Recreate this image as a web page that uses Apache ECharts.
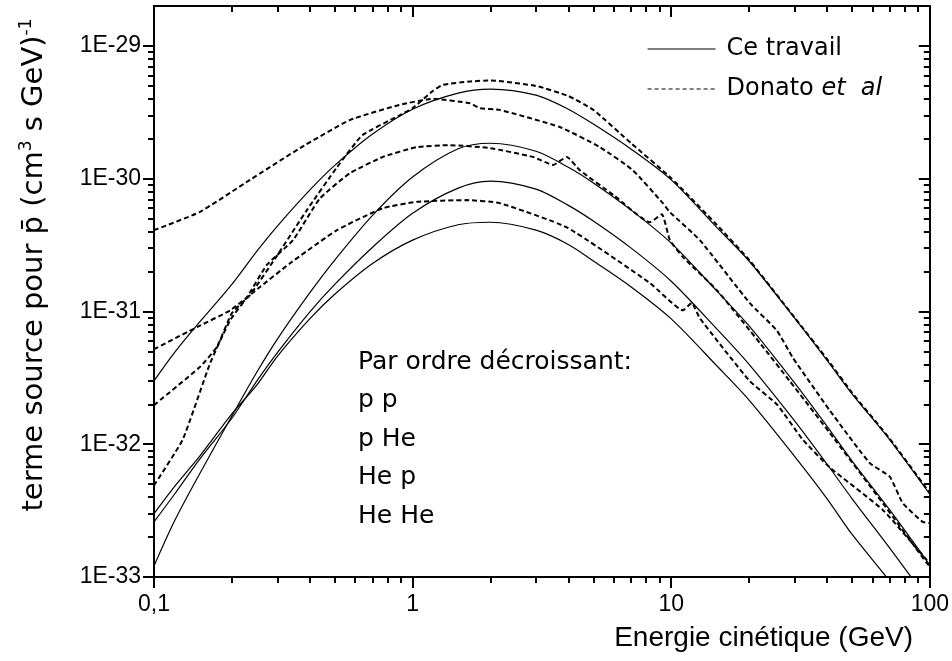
<!DOCTYPE html>
<html>
<head>
<meta charset="utf-8">
<script src="https://cdn.jsdelivr.net/npm/echarts@6/dist/echarts.min.js"></script>
<style>
  html, body { margin: 0; padding: 0; background: #fff; }
  #chart { width: 952px; height: 661px; }
</style>
</head>
<body>
<div id="chart"></div>
<script>
// Antiproton source terms (cm^-3 s^-1 GeV^-1) versus kinetic energy (GeV)

// --- "Ce travail": shared energy grid -------------------------------------
const energyGrid = [0.1, 0.12, 0.15, 0.2, 0.25, 0.3, 0.4, 0.5, 0.7, 1, 1.5, 2, 3, 4, 5, 7, 10, 15, 20, 30, 40, 50, 70, 100];
const ppThis   = [3.0e-32, 4.9e-32, 8.3e-32, 1.6e-31, 2.85e-31, 4.4e-31, 8.2e-31, 1.26e-30, 2.17e-30, 3.34e-30, 4.41e-30, 4.73e-30, 4.26e-30, 3.34e-30, 2.58e-30, 1.67e-30, 9.8e-31, 4.3e-31, 2.4e-31, 8.9e-32, 4.3e-32, 2.4e-32, 1.08e-32, 4.2e-33];
const pHeThis  = [1.21e-33, 2.64e-33, 5.97e-33, 1.63e-32, 3.5e-32, 6.2e-32, 1.38e-31, 2.44e-31, 5.3e-31, 1.03e-30, 1.68e-30, 1.85e-30, 1.61e-30, 1.22e-30, 9.3e-31, 5.8e-31, 3.27e-31, 1.43e-31, 7.8e-32, 2.9e-32, 1.37e-32, 7.5e-33, 3.2e-33, 1.23e-33];
const HepThis  = [2.6e-33, 4.2e-33, 7.7e-33, 1.57e-32, 3.0e-32, 4.9e-32, 9.9e-32, 1.6e-31, 3.05e-31, 5.5e-31, 8.5e-31, 9.6e-31, 8.35e-31, 6.3e-31, 4.8e-31, 3.0e-31, 1.69e-31, 7.4e-32, 4.0e-32, 1.5e-32, 7.1e-33, 3.9e-33, 1.65e-33, 6.4e-34];
const HeHeThis = [3.0e-33, 4.8e-33, 8.1e-33, 1.69e-32, 2.8e-32, 4.6e-32, 8.8e-32, 1.35e-31, 2.3e-31, 3.45e-31, 4.5e-31, 4.7e-31, 4.1e-31, 3.2e-31, 2.4e-31, 1.53e-31, 8.8e-32, 3.9e-32, 2.15e-32, 8.1e-33, 3.9e-33, 2.1e-33, 9.3e-34, 3.7e-34];

// --- "Donato et al": each curve on its own energy points -------------------
const donatoAE = [0.1, 0.15, 0.175, 0.2, 0.235, 0.3, 0.39, 0.51, 0.64, 0.89, 1.0, 1.2, 1.31, 1.67, 2.0, 3.0, 4.0, 5.0, 7.0, 10, 15, 20, 30, 40, 50, 70, 100];
const donatoAV = [1.97e-32, 3.8e-32, 5.4e-32, 9.7e-32, 1.33e-31, 2.66e-31, 5.8e-31, 1.22e-30, 2.13e-30, 3.0e-30, 3.4e-30, 4.6e-30, 5.1e-30, 5.4e-30, 5.5e-30, 5.0e-30, 4.2e-30, 3.3e-30, 1.85e-30, 1.01e-30, 4.5e-31, 2.45e-31, 9.0e-32, 4.4e-32, 2.45e-32, 1.1e-32, 4.3e-33];

const donatoBE = [0.1, 0.15, 0.235, 0.367, 0.57, 0.89, 1.2, 1.67, 1.82, 2.17, 3.71, 5.3, 7.1, 9.28, 9.88, 12.9, 20.1, 25.6, 29.5, 41, 58.6, 70, 78.6, 93.9, 100];
const donatoBV = [4.1e-31, 5.6e-31, 9.8e-31, 1.70e-30, 2.76e-30, 3.6e-30, 4.0e-30, 3.7e-30, 3.4e-30, 3.3e-30, 2.45e-30, 1.73e-30, 1.16e-30, 6.55e-31, 5.6e-31, 3.45e-31, 1.16e-31, 7.2e-32, 4.5e-32, 1.8e-32, 7.2e-33, 5.7e-33, 3.6e-33, 2.6e-33, 2.55e-33];

const donatoCE = [0.1, 0.129, 0.165, 0.197, 0.229, 0.273, 0.345, 0.438, 0.572, 0.768, 1.04, 1.39, 1.99, 2.92, 3.49, 3.95, 4.43, 6.0, 8.27, 9.2, 9.88, 11.1, 15, 22, 28.7, 41, 65.8, 97.4, 100];
const donatoCV = [4.9e-33, 1.08e-32, 4.1e-32, 8.6e-32, 1.28e-31, 2.24e-31, 3.45e-31, 7.1e-31, 1.10e-30, 1.46e-30, 1.73e-30, 1.79e-30, 1.70e-30, 1.46e-30, 1.27e-30, 1.46e-30, 1.16e-30, 7.5e-31, 4.7e-31, 5.4e-31, 3.45e-31, 2.57e-31, 1.45e-31, 5.8e-32, 3.0e-32, 1.22e-32, 3.6e-33, 1.27e-33, 1.2e-33];

const donatoDE = [0.1, 0.15, 0.197, 0.257, 0.335, 0.51, 0.768, 1.04, 1.62, 2.17, 3.95, 8.27, 11.1, 12.0, 12.9, 20.1, 25.6, 32.3, 41, 65.8, 97.4, 100];
const donatoDV = [5.2e-32, 7.8e-32, 1.02e-31, 1.53e-31, 2.3e-31, 4.1e-31, 6.0e-31, 6.7e-31, 6.9e-31, 6.55e-31, 4.3e-31, 1.64e-31, 1.02e-31, 1.16e-31, 8.9e-32, 3.0e-32, 2.0e-32, 1.08e-32, 6.7e-33, 3.2e-33, 1.34e-33, 1.3e-33];

// The value axis works in units of 1E-33 so that its tick values stay
// within ECharts' rounding precision; labels show the physical powers.
const Y_UNIT = 1e-33;
const Y_UNIT_EXP = -33;

// --- axis ticks --------------------------------------------------------------
const xMajorTicks = [0.1, 1, 10, 100];
const xMinorTicks = [0.2, 0.3, 0.4, 0.5, 0.6, 0.7, 0.8, 0.9, 2, 3, 4, 5, 6, 7, 8, 9, 20, 30, 40, 50, 60, 70, 80, 90];
// in units of Y_UNIT: 1E-33 ... 1E-29, top of the axis at 2E-29
const yMin = 1, yMax = 20000;
const yMajorTicks = [1, 10, 100, 1000, 10000];
const yMinorTicks = [2, 3, 4, 5, 6, 7, 8, 9,
                     20, 30, 40, 50, 60, 70, 80, 90,
                     200, 300, 400, 500, 600, 700, 800, 900,
                     2000, 3000, 4000, 5000, 6000, 7000, 8000, 9000];

const LABEL_THIS = 'Ce travail';
const LABEL_DONATO = 'Donato et al';

function pairs(xs, ys) { return xs.map((x, i) => [x, ys[i] / Y_UNIT]); }

function solid(values) {
  return {
    name: LABEL_THIS, type: 'line', xAxisIndex: 0, yAxisIndex: 0,
    data: pairs(energyGrid, values), showSymbol: false, symbol: 'none', smooth: 0.3,
    lineStyle: { color: '#000', width: 1.2, type: 'solid' }, itemStyle: { color: '#000' },
    z: 3, silent: true, clip: true
  };
}
function dashed(xs, ys) {
  return {
    name: LABEL_DONATO, type: 'line', xAxisIndex: 0, yAxisIndex: 0,
    data: pairs(xs, ys), showSymbol: false, symbol: 'none', smooth: 0.15,
    lineStyle: { color: '#000', width: 2, type: [5, 3] }, itemStyle: { color: '#000' },
    z: 4, silent: true, clip: true
  };
}

const AXIS_COLOR = '#000';
function xAxisDef(position, inside, ticks, len, withLine, labels) {
  return {
    type: 'log', logBase: 10, min: 0.1, max: 100, position: position, gridIndex: 0,
    axisLine: { show: withLine, onZero: false, lineStyle: { color: AXIS_COLOR, width: 2 } },
    axisTick: { show: true, inside: inside, length: len, customValues: ticks, lineStyle: { color: AXIS_COLOR, width: 2 } },
    axisLabel: labels ? {
      show: true, customValues: xMajorTicks, margin: 16, color: '#000',
      fontFamily: 'Liberation Sans', fontSize: 23,
      formatter: v => String(Number(v.toPrecision(6))).replace('.', ',')
    } : { show: false },
    splitLine: { show: false }, minorTick: { show: false }, minorSplitLine: { show: false }
  };
}
function yAxisDef(position, inside, ticks, len, withLine, labels) {
  return {
    type: 'log', logBase: 10, min: yMin, max: yMax, position: position, gridIndex: 0,
    axisLine: { show: withLine, onZero: false, lineStyle: { color: AXIS_COLOR, width: 2 } },
    axisTick: { show: true, inside: inside, length: len, customValues: ticks, lineStyle: { color: AXIS_COLOR, width: 2 } },
    axisLabel: labels ? {
      show: true, customValues: yMajorTicks, margin: 13, color: '#000',
      fontFamily: 'Liberation Sans', fontSize: 23,
      formatter: v => '1E' + (Math.round(Math.log10(v)) + Y_UNIT_EXP)
    } : { show: false },
    splitLine: { show: false }, minorTick: { show: false }, minorSplitLine: { show: false }
  };
}

const chart = echarts.init(document.getElementById('chart'), null, { renderer: 'canvas' });
chart.setOption({
  animation: false,
  backgroundColor: '#fff',
  grid: { left: 154, right: 22, top: 6, bottom: 84, containLabel: false },
  xAxis: [
    xAxisDef('bottom', false, xMajorTicks, 11, true, true),
    xAxisDef('bottom', false, xMinorTicks, 6, false, false),
    xAxisDef('top', true, xMajorTicks, 11, true, false),
    xAxisDef('top', true, xMinorTicks, 6, false, false)
  ],
  yAxis: [
    yAxisDef('left', false, yMajorTicks, 11, true, true),
    yAxisDef('left', false, yMinorTicks, 6, false, false),
    yAxisDef('right', true, yMajorTicks, 11, true, false),
    yAxisDef('right', true, yMinorTicks, 6, false, false)
  ],
  legend: {
    orient: 'vertical', left: 642, top: 31,
    itemWidth: 68, itemHeight: 14, itemGap: 14,
    selectedMode: false,
    itemStyle: { opacity: 0 },
    data: [
      { name: LABEL_THIS, lineStyle: { width: 1.2 } },
      { name: LABEL_DONATO, lineStyle: { width: 1, type: [4, 3] } }
    ],
    formatter: n => n === LABEL_DONATO ? 'Donato {it|et  al}' : n,
    textStyle: {
      fontFamily: 'DejaVu Sans', fontSize: 24, color: '#000', lineHeight: 26, padding: [0, 0, 0, 6],
      rich: { it: { fontFamily: 'DejaVu Sans', fontSize: 24, fontStyle: 'italic', color: '#000', lineHeight: 26 } }
    }
  },
  graphic: [
    {
      type: 'text', left: 358, top: 343, silent: true,
      style: {
        text: 'Par ordre décroissant:\np p\np He\nHe p\nHe He',
        fontFamily: 'DejaVu Sans', fontSize: 25, lineHeight: 38.5, fill: '#000'
      }
    },
    {
      type: 'text', x: 34, y: 265, rotation: Math.PI / 2, silent: true,
      style: {
        text: 'terme source pour p\u0304 (cm{sup|3} s GeV){sup|-1}',
        fontFamily: 'DejaVu Sans', fontSize: 29, fill: '#000',
        align: 'center', verticalAlign: 'middle', textAlign: 'center', textVerticalAlign: 'middle',
        rich: { sup: { fontFamily: 'DejaVu Sans', fontSize: 17, fill: '#000', verticalAlign: 'top', lineHeight: 32 } }
      }
    },
    {
      type: 'text', x: 913, y: 638, silent: true,
      style: {
        text: 'Energie cinétique (GeV)',
        fontFamily: 'Liberation Sans', fontSize: 28, fill: '#000',
        align: 'right', verticalAlign: 'middle', textAlign: 'right', textVerticalAlign: 'middle'
      }
    }
  ],
  series: [
    solid(ppThis), solid(pHeThis), solid(HepThis), solid(HeHeThis),
    dashed(donatoAE, donatoAV), dashed(donatoBE, donatoBV), dashed(donatoCE, donatoCV), dashed(donatoDE, donatoDV)
  ]
});
</script>
</body>
</html>
